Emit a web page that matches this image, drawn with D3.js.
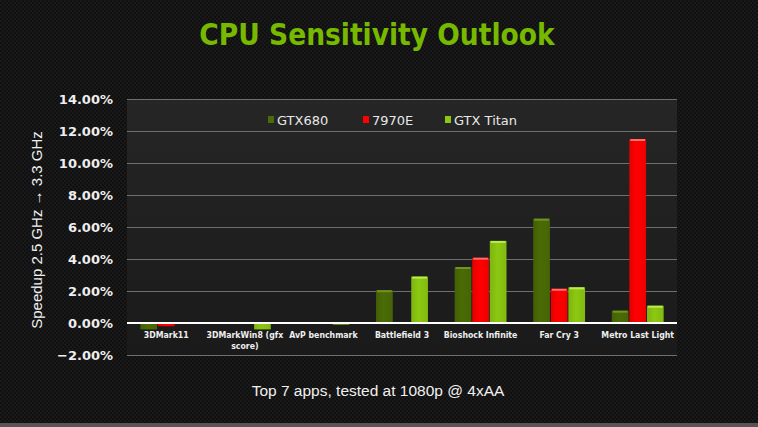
<!DOCTYPE html>
<meta charset="utf-8">
<style>
body { margin: 0; background: #0e0e0e; }
svg { display: block; }
.grid line { stroke: #6e6e6e; stroke-width: 1px; }
.axis--y text { fill: #eeeeee; font-family: "DejaVu Sans", sans-serif; font-size: 13px; font-weight: bold; }
.axis--x text { fill: #eeeeee; font-family: "DejaVu Sans", sans-serif; font-size: 8.7px; font-weight: bold; font-stretch: condensed; }
.legend text { fill: #e8e8e8; font-family: "DejaVu Sans", sans-serif; font-size: 13px; }
</style>
<svg width="758" height="427"></svg>
<script src="https://d3js.org/d3.v7.min.js"></script>
<script>

var categories = ["3DMark11", "3DMarkWin8 (gfx score)", "AvP benchmark", "Battlefield 3", "Bioshock Infinite", "Far Cry 3", "Metro Last Light"];
var seriesNames = ["GTX680", "7970E", "GTX Titan"];
var gtx680 = [-0.40, 0.05, 0.00, 2.05, 3.50, 6.52, 0.77];
var hd7970e = [-0.20, 0.00, 0.05, 0.00, 4.08, 2.14, 11.50];
var gtxTitan = [0.00, -0.40, -0.10, 2.90, 5.13, 2.23, 1.08];
var yTicks = [-2, 0, 2, 4, 6, 8, 10, 12, 14];

var colors = ["#4b6b06", "#ff0000", "#8cc811"];
var tops = ["#6f9420", "#ff6b6b", "#b8ec50"];

var svg = d3.select("svg"),
    margin = {top: 99, right: 81, bottom: 72, left: 127},
    width = +svg.attr("width") - margin.left - margin.right,
    height = +svg.attr("height") - margin.top - margin.bottom;

// textured background
var defs = svg.append("defs");
var pat = defs.append("pattern").attr("id", "tex")
    .attr("width", 4).attr("height", 4).attr("patternUnits", "userSpaceOnUse");
pat.append("rect").attr("width", 4).attr("height", 4).attr("fill", "#101010");
pat.append("rect").attr("width", 2).attr("height", 2).attr("fill", "#191919");
pat.append("rect").attr("x", 2).attr("y", 2).attr("width", 2).attr("height", 2).attr("fill", "#191919");

var plotGrad = defs.append("linearGradient").attr("id", "plotbg")
    .attr("x1", 0).attr("y1", 0).attr("x2", 0).attr("y2", 1);
plotGrad.append("stop").attr("offset", "0%").attr("stop-color", "#262626");
plotGrad.append("stop").attr("offset", "100%").attr("stop-color", "#1a1a1a");

colors.forEach(function(c, i) {
  var gr = defs.append("linearGradient").attr("id", "bar" + i)
      .attr("x1", 0).attr("y1", 0).attr("x2", 1).attr("y2", 0);
  gr.append("stop").attr("offset", "0%").attr("stop-color", d3.color(c).darker(0.3));
  gr.append("stop").attr("offset", "45%").attr("stop-color", c);
  gr.append("stop").attr("offset", "100%").attr("stop-color", d3.color(c).darker(0.2));
});

svg.append("rect").attr("width", 758).attr("height", 427).attr("fill", "url(#tex)");
svg.append("rect").attr("y", 423).attr("width", 758).attr("height", 4).attr("fill", "#555");

svg.append("text")
    .attr("x", 377).attr("y", 45)
    .attr("text-anchor", "middle")
    .attr("fill", "#76b900")
    .style("font-family", "'DejaVu Sans', sans-serif")
    .style("font-size", "29.5px")
    .style("font-weight", "bold")
    .style("font-stretch", "condensed")
    .text("CPU Sensitivity Outlook");

var g = svg.append("g").attr("transform", "translate(" + margin.left + "," + margin.top + ")");

var y = d3.scaleLinear().domain([-2, 14]).range([256, 0]);

var x0 = d3.scaleBand().domain(categories).range([0, width]).paddingInner(0.34).paddingOuter(0.17);
var x1 = d3.scaleBand().domain(seriesNames).range([0, x0.bandwidth()]).paddingInner(0.05);

g.append("rect").attr("width", width).attr("height", y(-2)).attr("fill", "url(#plotbg)");

g.append("g").attr("class", "grid")
  .selectAll("line").data(yTicks.filter(function(t) { return t !== 0; }))
  .enter().append("line")
    .attr("x1", 0).attr("x2", width)
    .attr("y1", function(d) { return y(d) + 0.5; })
    .attr("y2", function(d) { return y(d) + 0.5; });

var rows = categories.map(function(c, i) {
  return {cat: c, vals: [gtx680[i], hd7970e[i], gtxTitan[i]]};
});

var groups = g.selectAll(".grp").data(rows).enter().append("g")
    .attr("transform", function(d) { return "translate(" + x0(d.cat) + ",0)"; });

groups.selectAll("rect.bar").data(function(d) {
    return d.vals.map(function(v, i) { return {name: seriesNames[i], v: v, i: i}; });
  }).enter().append("rect")
    .attr("class", "bar")
    .attr("x", function(d) { return x1(d.name); })
    .attr("width", x1.bandwidth())
    .attr("y", function(d) { return y(Math.max(0, d.v)); })
    .attr("height", function(d) { return Math.abs(y(d.v) - y(0)); })
    .attr("fill", function(d) { return "url(#bar" + d.i + ")"; });

// lighter bevel on top of positive bars
groups.selectAll("rect.cap").data(function(d) {
    return d.vals.map(function(v, i) { return {name: seriesNames[i], v: v, i: i}; })
      .filter(function(e) { return e.v > 0.3; });
  }).enter().append("rect")
    .attr("class", "cap")
    .attr("x", function(d) { return x1(d.name) + 1; })
    .attr("width", x1.bandwidth() - 2)
    .attr("y", function(d) { return y(d.v); })
    .attr("height", 2)
    .attr("fill", function(d) { return tops[d.i]; });

// zero line
g.append("line")
    .attr("x1", 0).attr("x2", width)
    .attr("y1", y(0)).attr("y2", y(0))
    .attr("stroke", "#ffffff").attr("stroke-width", 2);

var yAxis = g.append("g").attr("class", "axis axis--y")
    .call(d3.axisLeft(y).tickValues(yTicks).tickSize(0).tickPadding(14)
      .tickFormat(function(d) { return d3.format(".2f")(d) + "%"; }));
yAxis.select(".domain").remove();

var xAxis = g.append("g").attr("class", "axis axis--x")
    .attr("transform", "translate(0," + y(0) + ")")
    .call(d3.axisBottom(x0).tickSize(0).tickPadding(9));
xAxis.select(".domain").remove();
xAxis.selectAll(".tick text").each(function(d) {
  var t = d3.select(this);
  if (d === "3DMarkWin8 (gfx score)") {
    t.text(null);
    t.append("tspan").attr("x", 0).attr("dy", "0.71em").text("3DMarkWin8 (gfx");
    t.append("tspan").attr("x", 0).attr("dy", "1.25em").text("score)");
    t.attr("dy", null);
  }
});

var legend = svg.append("g").attr("class", "legend");
var legendX = [268, 363, 445];
seriesNames.forEach(function(n, i) {
  var lg = legend.append("g").attr("transform", "translate(" + legendX[i] + ",116)");
  lg.append("rect").attr("width", 6).attr("height", 7).attr("fill", colors[i]);
  lg.append("text").attr("x", 9).attr("y", 8.5).text(n);
});

svg.append("text")
    .attr("transform", "translate(42,230) rotate(-90)")
    .attr("text-anchor", "middle")
    .attr("fill", "#f0f0f0")
    .style("font", "15px 'Liberation Sans', Arial, sans-serif")
    .text("Speedup 2.5 GHz \u2192 3.3 GHz");

svg.append("text")
    .attr("x", 378).attr("y", 396)
    .attr("text-anchor", "middle")
    .attr("fill", "#f0f0f0")
    .style("font", "15.5px 'Liberation Sans', Arial, sans-serif")
    .text("Top 7 apps, tested at 1080p @ 4xAA");

</script>
